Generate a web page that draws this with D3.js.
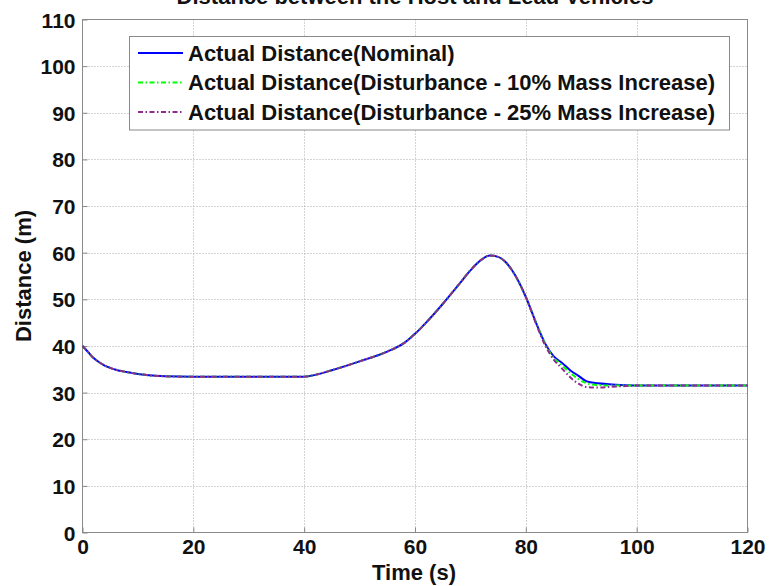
<!DOCTYPE html>
<html>
<head>
<meta charset="utf-8">
<script src="https://cdn.jsdelivr.net/npm/d3@7"></script>
<style>
  html, body { margin: 0; padding: 0; background: #fff; }
  svg { display: block; font-family: "Liberation Sans", Arial, Helvetica, sans-serif; font-weight: bold; }
</style>
</head>
<body>
<svg id="chart" width="771" height="586"></svg>
<script>
// ---- data ----
const time = [0,1,2,3,4,5,6,8,10,12,15,20,30,40,42,45,50,55,58,60,62,65,68,70,72,73.5,75,76.5,78,80,82,83.5,85,86.5,88,89.5,91,93,95,98,100,110,120];
const nominal = [40,38.7,37.4,36.5,35.8,35.3,34.9,34.4,34.0,33.7,33.5,33.4,33.4,33.4,33.8,34.8,36.7,38.8,40.6,42.6,45.0,49.0,53.3,56.2,58.5,59.4,59.1,57.8,55.3,50.5,44.5,40.5,37.8,36.4,34.8,33.6,32.4,32.0,31.8,31.6,31.5,31.5,31.5];
const mass10  = [40,38.7,37.4,36.5,35.8,35.3,34.9,34.4,34.0,33.7,33.5,33.4,33.4,33.4,33.8,34.8,36.7,38.8,40.6,42.6,45.0,49.0,53.3,56.2,58.5,59.4,59.1,57.8,55.3,50.5,44.5,40.4,37.5,35.9,34.2,32.9,32.0,31.6,31.5,31.5,31.5,31.5,31.5];
const mass25  = [40,38.7,37.4,36.5,35.8,35.3,34.9,34.4,34.0,33.7,33.5,33.4,33.4,33.4,33.8,34.8,36.7,38.8,40.6,42.6,45.0,49.0,53.3,56.2,58.5,59.4,59.1,57.8,55.3,50.5,44.3,40.1,37.1,35.2,33.3,31.9,31.2,31.1,31.2,31.4,31.5,31.5,31.5];
const xTicks = [0,20,40,60,80,100,120];
const yTicks = [0,10,20,30,40,50,60,70,80,90,100,110];
const seriesNames = [
  "Actual Distance(Nominal)",
  "Actual Distance(Disturbance - 10% Mass Increase)",
  "Actual Distance(Disturbance - 25% Mass Increase)"
];
const titleText = "Distance between the Host and Lead Vehicles";
const xLabel = "Time (s)";
const yLabel = "Distance (m)";

// ---- layout ----
const svg = d3.select("#chart");
const L = 82.5, R = 747.5, T = 19.5, B = 532.5;
const x = d3.scaleLinear().domain([0,120]).range([L, R]);
const y = d3.scaleLinear().domain([0,110]).range([B, T]);

const series = [
  {name: seriesNames[0], values: nominal, color: "#0000ff", dash: null},
  {name: seriesNames[1], values: mass10,  color: "#00ff00", dash: "5,2.5,1.5,2.5"},
  {name: seriesNames[2], values: mass25,  color: "#8f2a90", dash: "5,2.5,1.5,2.5"}
];

// title (cropped at top, as in the reference)
svg.append("text").attr("x", 415).attr("y", 4).attr("text-anchor", "middle")
  .attr("font-size", 22).attr("fill", "#111").text(titleText);

// grid
const grid = svg.append("g").attr("stroke", "#a8a8a8").attr("stroke-width", 1).attr("stroke-dasharray", "1,2");
grid.selectAll("line.gx").data(xTicks.slice(1, -1)).join("line")
  .attr("x1", d => Math.round(x(d)) + 0.5).attr("x2", d => Math.round(x(d)) + 0.5)
  .attr("y1", T).attr("y2", B);
grid.selectAll("line.gy").data(yTicks.slice(1, -1)).join("line")
  .attr("y1", d => Math.round(y(d)) + 0.5).attr("y2", d => Math.round(y(d)) + 0.5)
  .attr("x1", L).attr("x2", R);

// axes
const xAxis = d3.axisBottom(x).tickValues(xTicks).tickSize(-5).tickPadding(10).tickSizeOuter(0);
const yAxis = d3.axisLeft(y).tickValues(yTicks).tickSize(-5).tickPadding(7).tickSizeOuter(0);
const gx = svg.append("g").attr("transform", `translate(0,${B})`).call(xAxis);
const gy = svg.append("g").attr("transform", `translate(${L},0)`).call(yAxis);
[gx, gy].forEach(g => {
  g.select(".domain").remove();
  g.selectAll(".tick line").attr("stroke", "#888");
  g.selectAll(".tick text").attr("font-size", 21).attr("font-weight", "bold")
    .attr("font-family", "Liberation Sans, Arial, sans-serif").attr("fill", "#111");
});
gx.selectAll(".tick text").attr("dy", "0.71em").attr("y", 7);
gy.selectAll(".tick text").attr("dy", "0.36em");

// box
svg.append("rect").attr("x", L).attr("y", T).attr("width", R - L).attr("height", B - T)
  .attr("fill", "none").attr("stroke", "#8a8a8a").attr("stroke-width", 1);

// lines
const line = d3.line().x((d, i) => x(time[i])).y(d => y(d)).curve(d3.curveMonotoneX);
svg.append("g").selectAll("path").data(series).join("path")
  .attr("d", s => line(s.values))
  .attr("fill", "none").attr("stroke", s => s.color).attr("stroke-width", 2)
  .attr("stroke-dasharray", s => s.dash);

// axis labels
svg.append("text").attr("x", 414).attr("y", 580).attr("text-anchor", "middle")
  .attr("font-size", 22).attr("fill", "#111").text(xLabel);
svg.append("text").attr("transform", "translate(31,276) rotate(-90)").attr("text-anchor", "middle")
  .attr("font-size", 22).attr("fill", "#111").text(yLabel);

// legend
const lg = svg.append("g");
lg.append("rect").attr("x", 129.5).attr("y", 36.5).attr("width", 600).attr("height", 93.5)
  .attr("fill", "#fff").attr("stroke", "#8a8a8a").attr("stroke-width", 1);
const rowY = [53, 82.5, 112];
series.forEach((s, i) => {
  lg.append("line").attr("x1", 138).attr("x2", 183).attr("y1", rowY[i]).attr("y2", rowY[i])
    .attr("stroke", s.color).attr("stroke-width", 2).attr("stroke-dasharray", s.dash);
  lg.append("text").attr("x", 188).attr("y", rowY[i]).attr("dy", "0.36em")
    .attr("font-size", 22).attr("fill", "#111").text(s.name);
});
</script>
</body>
</html>
